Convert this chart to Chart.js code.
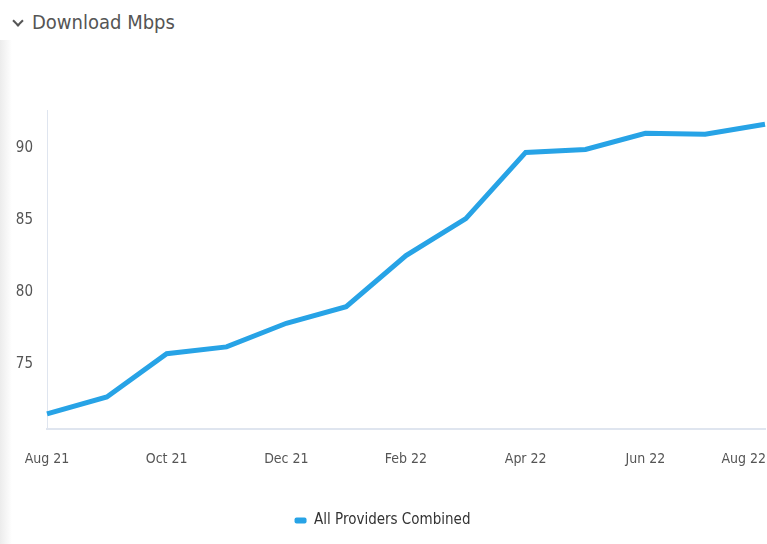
<!DOCTYPE html>
<html>
<head>
<meta charset="utf-8">
<script src="https://cdn.jsdelivr.net/npm/chart.js@4"></script>
<style>
  html, body { margin: 0; padding: 0; background: #fff; overflow: hidden; }
  #wrap { position: relative; width: 767px; height: 544px; }
  #edge { position: absolute; left: 0; top: 40px; width: 12px; bottom: 0;
          background: linear-gradient(to right, #ececec, #fff); }
  #title { position: absolute; left: 12px; top: 10px; font-family: "DejaVu Sans Condensed", "Liberation Sans Narrow", Roboto, sans-serif;
           font-stretch: condensed; font-size: 20px; color: #555; white-space: nowrap; }
  #title .chev { display: inline-block; width: 6px; height: 6px; border-right: 2px solid #555; border-bottom: 2px solid #555;
                 transform: rotate(45deg); margin: 0 10px 5px 2px; vertical-align: middle; }
  canvas { position: absolute; left: 0; top: 0; }
</style>
</head>
<body>
<div id="wrap">
  <div id="edge"></div>
  <div id="title"><span class="chev"></span>Download Mbps</div>
  <canvas id="grafik" width="767" height="544"></canvas>
</div>
<script>
const months = ['Aug 21', 'Sep 21', 'Oct 21', 'Nov 21', 'Dec 21', 'Jan 22', 'Feb 22', 'Mar 22', 'Apr 22', 'May 22', 'Jun 22', 'Jul 22', 'Aug 22']
const download = [71.52, 72.70, 75.70, 76.18, 77.82, 78.97, 82.53, 85.10, 89.70, 89.91, 91.03, 90.96, 91.66]
const yTicks = [75, 80, 85, 90]
const seriesName = 'All Providers Combined'

const font = "'DejaVu Sans Condensed', 'Liberation Sans Narrow', Roboto, sans-serif"
const blue = '#27a3e6'

// last x label is pushed inside the canvas, like the original
const justifyLast = {
    id: 'justifyLast',
    beforeDraw(chart) {
        const items = chart.scales.x.getLabelItems(chart.chartArea)
        const last = items[items.length - 1]
        if (last) {
            last.options.textAlign = 'right'
            last.options.translation[0] = chart.width - 1
        }
    }
}

const ctx = document.getElementById('grafik')
const myChart = new Chart(ctx, {
    type: 'line',
    data: {
        labels: months,
        datasets: [{
            label: seriesName,
            data: download,
            borderColor: blue,
            backgroundColor: blue,
            borderWidth: 5,
            pointRadius: 0,
            tension: 0
        }]
    },
    options: {
        responsive: false,
        animation: false,
        layout: { padding: { top: 110, right: 2, bottom: 6, left: 0 } },
        plugins: {
            legend: {
                position: 'bottom',
                labels: {
                    boxWidth: 12, boxHeight: 6,
                    useBorderRadius: true, borderRadius: 2,
                    color: '#333',
                    font: { family: font, size: 15 },
                    generateLabels: chart => Chart.defaults.plugins.legend.labels.generateLabels(chart)
                        .map(l => Object.assign(l, { lineWidth: 0 }))
                }
            },
            tooltip: { enabled: false }
        },
        scales: {
            x: {
                grid: { display: false, drawTicks: false },
                border: { color: '#dfe5ef', width: 2 },
                ticks: {
                    autoSkip: false, maxRotation: 0, padding: 22,
                    color: '#555', font: { family: font, size: 14 },
                    callback: function (v, i) { return i % 2 === 0 ? this.getLabelForValue(v) : '' }
                },
                afterFit: s => { s.paddingRight = 0; s.paddingLeft = 0; s.height = 74 }
            },
            y: {
                min: 70.47, max: 92.65,
                grid: { display: false, drawTicks: false },
                border: { color: '#dfe5ef', width: 1 },
                ticks: { padding: 14, color: '#555', font: { family: font, size: 15 } },
                afterBuildTicks: s => { s.ticks = yTicks.map(v => ({ value: v })) },
                afterFit: s => { s.width = 47 }
            }
        }
    },
    plugins: [justifyLast]
})
</script>
</body>
</html>
